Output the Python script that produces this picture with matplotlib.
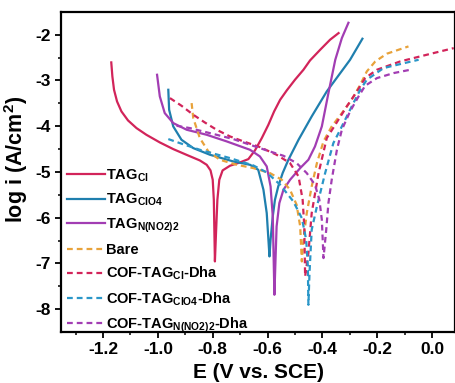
import matplotlib
matplotlib.use("Agg")
import matplotlib.pyplot as plt

plt.rcParams['font.family'] = ['Liberation Sans', 'DejaVu Sans']
plt.rcParams['font.weight'] = 'bold'
plt.rcParams['mathtext.fontset'] = 'custom'
plt.rcParams['mathtext.rm'] = 'Liberation Sans:bold'
plt.rcParams['mathtext.bf'] = 'Liberation Sans:bold'
plt.rcParams['mathtext.it'] = 'Liberation Sans:bold'

# ---- data (E in V vs SCE, log i) ----
tag_cl_E = [-1.170, -1.166, -1.160, -1.149, -1.133, -1.109, -1.078, -1.042, -0.993, -0.944, -0.896,
            -0.847, -0.822, -0.808, -0.800, -0.796, -0.792,
            -0.788, -0.783, -0.776, -0.764, -0.737, -0.701, -0.670, -0.646, -0.621, -0.597,
            -0.576, -0.554, -0.530, -0.500, -0.469, -0.445, -0.408, -0.372, -0.341]
tag_cl_I = [-2.605, -2.911, -3.203, -3.458, -3.676, -3.873, -4.041, -4.187, -4.354, -4.500, -4.624,
            -4.748, -4.843, -4.966, -5.171, -5.608, -6.956,
            -6.337, -5.608, -5.171, -4.966, -4.864, -4.792, -4.719, -4.529, -4.259, -3.968,
            -3.676, -3.421, -3.217, -2.984, -2.765, -2.561, -2.328, -2.109, -1.964]

tag_clo4_E = [-0.962, -0.959, -0.944, -0.914, -0.871, -0.810, -0.725, -0.664, -0.634, -0.615, -0.603, -0.593,
              -0.589, -0.581, -0.573, -0.561, -0.545, -0.524, -0.487, -0.439, -0.384, -0.299, -0.254]
tag_clo4_I = [-3.203, -3.640, -4.004, -4.296, -4.478, -4.624, -4.770, -4.843, -4.952, -5.389, -5.899, -6.847,
              -6.483, -5.972, -5.608, -5.316, -5.025, -4.733, -4.296, -3.786, -3.239, -2.547, -2.087]

tag_nno2_E = [-1.003, -0.993, -0.975, -0.944, -0.895, -0.822, -0.749, -0.664, -0.628, -0.603, -0.589, -0.581, -0.575,
              -0.571, -0.567, -0.557, -0.542, -0.518, -0.481, -0.451, -0.427, -0.402, -0.378, -0.353, -0.329, -0.305]
tag_nno2_I = [-2.875, -3.348, -3.713, -3.931, -4.077, -4.187, -4.332, -4.515, -4.660, -4.879, -5.316, -5.972, -7.685,
              -6.920, -6.191, -5.681, -5.389, -5.171, -4.915, -4.733, -4.442, -4.004, -3.276, -2.547, -2.073, -1.738]

bare_E = [-0.877, -0.871, -0.847, -0.816, -0.774, -0.713, -0.652, -0.591, -0.548, -0.518, -0.494, -0.481, -0.475,
          -0.469, -0.457, -0.439, -0.420, -0.396, -0.366, -0.329, -0.293, -0.262, -0.238, -0.207, -0.165, -0.086]
bare_I = [-3.494, -3.822, -4.259, -4.551, -4.733, -4.843, -4.915, -5.025, -5.171, -5.389, -5.717, -6.191, -6.956,
          -6.483, -5.899, -5.316, -4.806, -4.332, -4.004, -3.713, -3.421, -3.093, -2.802, -2.583, -2.415, -2.255]

cof_cl_E = [-0.956, -0.914, -0.871, -0.829, -0.786, -0.737, -0.688, -0.628, -0.567, -0.518, -0.487, -0.472,
            -0.466, -0.463, -0.451, -0.439, -0.414, -0.384, -0.353, -0.311, -0.274, -0.244, -0.201, -0.116,
            -0.019, 0.079]
cof_cl_I = [-3.385, -3.552, -3.749, -3.917, -4.077, -4.223, -4.332, -4.456, -4.624, -4.806, -5.098, -5.608,
            -6.191, -7.284, -6.774, -5.899, -5.025, -4.259, -3.968, -3.567, -3.239, -2.948, -2.765, -2.583,
            -2.437, -2.292]

cof_clo4_E = [-0.962, -0.920, -0.847, -0.737, -0.652, -0.603, -0.554, -0.506, -0.475, -0.459, -0.453, -0.451,
              -0.447, -0.439, -0.420, -0.390, -0.360, -0.335, -0.293, -0.262, -0.238, -0.177, -0.116, -0.049]
cof_clo4_I = [-4.281, -4.369, -4.515, -4.697, -4.857, -5.010, -5.280, -5.644, -6.009, -6.483, -7.066, -7.904,
              -7.211, -6.264, -5.754, -5.025, -4.369, -4.077, -3.567, -3.203, -2.984, -2.729, -2.641, -2.547]

cof_nno2_E = [-0.932, -0.883, -0.835, -0.786, -0.725, -0.664, -0.603, -0.542, -0.494, -0.457, -0.427, -0.411,
              -0.402, -0.396, -0.386, -0.378, -0.366, -0.347, -0.329, -0.299, -0.268, -0.244, -0.201, -0.140, -0.079]
cof_nno2_I = [-3.990, -4.041, -4.114, -4.187, -4.281, -4.405, -4.529, -4.646, -4.806, -5.025, -5.280, -5.608,
              -6.045, -6.883, -6.264, -5.681, -5.171, -4.515, -4.077, -3.676, -3.348, -3.115, -2.948, -2.838, -2.765]

labels = [r'TAG$_{\mathbf{Cl}}$', r'TAG$_{\mathbf{ClO4}}$', r'TAG$_{\mathbf{N(NO2)2}}$', 'Bare',
          r'COF-TAG$_{\mathbf{Cl}}$-Dha', r'COF-TAG$_{\mathbf{ClO4}}$-Dha', r'COF-TAG$_{\mathbf{N(NO2)2}}$-Dha']

x_ticks = [-1.2, -1.0, -0.8, -0.6, -0.4, -0.2, 0.0]
y_ticks = [-2, -3, -4, -5, -6, -7, -8]

fig = plt.figure(figsize=(4.56, 3.83), dpi=100)
ax = fig.add_axes([0.134, 0.133, 0.864, 0.836])

c_red = '#d2245a'
c_blue = '#1f7fae'
c_purple = '#a23db3'
c_orange = '#e8a23a'
c_bdash = '#2a96c8'

lw = 1.6
ax.plot(tag_cl_E, tag_cl_I, color=c_red, lw=lw, label=labels[0])
ax.plot(tag_clo4_E, tag_clo4_I, color=c_blue, lw=lw, label=labels[1])
ax.plot(tag_nno2_E, tag_nno2_I, color=c_purple, lw=lw, label=labels[2])
ds = (2.6, 1.8)
ax.plot(bare_E, bare_I, color=c_orange, lw=lw, dashes=ds, label=labels[3])
ax.plot(cof_cl_E, cof_cl_I, color=c_red, lw=lw, dashes=ds, label=labels[4])
ax.plot(cof_clo4_E, cof_clo4_I, color=c_bdash, lw=lw, dashes=ds, label=labels[5])
ax.plot(cof_nno2_E, cof_nno2_I, color=c_purple, lw=lw, dashes=ds, label=labels[6])

ax.set_xlim(-1.353, 0.084)
ax.set_ylim(-8.5, -1.5)
ax.set_xticks(x_ticks)
ax.set_xticklabels(['-1.2', '-1.0', '-0.8', '-0.6', '-0.4', '-0.2', '0.0'])
ax.set_yticks(y_ticks)
ax.set_yticklabels([str(v) for v in y_ticks])
ax.set_xticks([-1.3, -1.1, -0.9, -0.7, -0.5, -0.3, -0.1], minor=True)
ax.set_yticks([-2.5, -3.5, -4.5, -5.5, -6.5, -7.5], minor=True)
ax.tick_params(axis='both', which='major', direction='out', length=4, width=1.3, labelsize=12.5)
ax.tick_params(axis='both', which='minor', direction='out', length=2.5, width=1.1)
for lab in ax.get_xticklabels() + ax.get_yticklabels():
    lab.set_fontweight('bold')
for s in ax.spines.values():
    s.set_linewidth(1.6)

ax.set_xlabel('E (V vs. SCE)', fontsize=15, fontweight='bold', labelpad=4)
ax.set_ylabel(r'log i (A/cm$^{\mathbf{2}}$)', fontsize=15.5, fontweight='bold')
ax.yaxis.set_label_coords(-0.078, 0.54)

leg = ax.legend(loc='lower left', bbox_to_anchor=(0.0, -0.027), frameon=False,
                handlelength=2.6, handletextpad=0.05, labelspacing=0.55,
                borderaxespad=0.0, prop={'weight': 'bold', 'size': 10.5})

fig.savefig('out.png', dpi=100)
